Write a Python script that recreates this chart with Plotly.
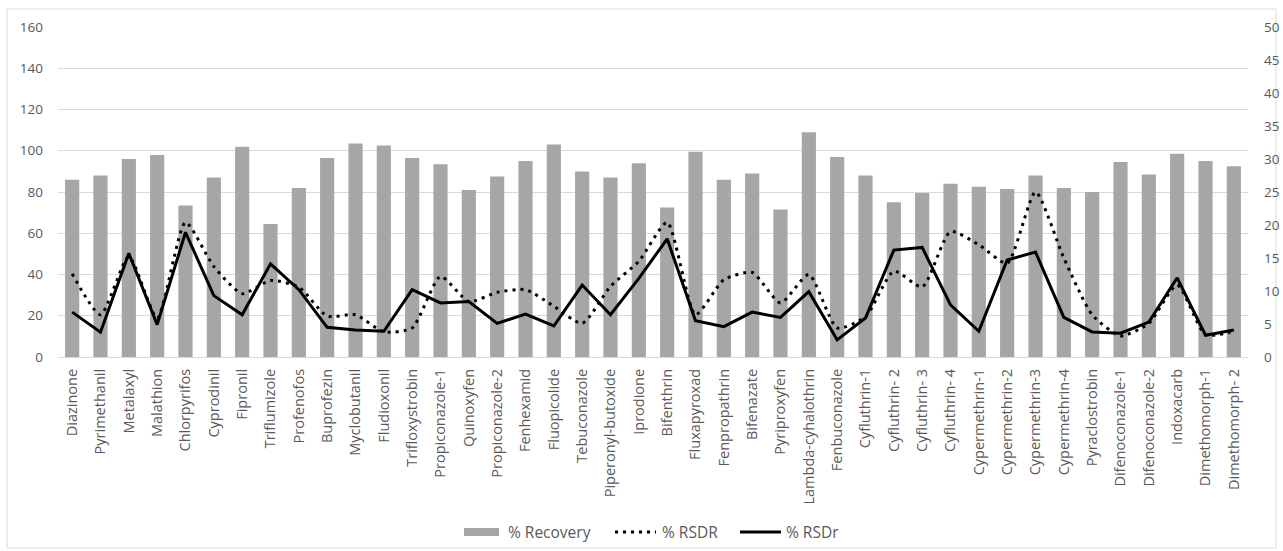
import plotly.graph_objects as go

compounds = ["Diazinone", "Pyrimethanil", "Metalaxyl", "Malathion", "Chlorpyrifos", "Cyprodinil",
             "Fipronil", "Triflumizole", "Profenofos", "Buprofezin", "Myclobutanil", "Fludioxonil",
             "Trifloxystrobin", "Propiconazole-1", "Quinoxyfen", "Propiconazole-2", "Fenhexamid",
             "Fluopicolide", "Tebuconazole", "Piperonyl-butoxide", "Iprodione", "Bifenthrin",
             "Fluxapyroxad", "Fenpropathrin", "Bifenazate", "Pyriproxyfen", "Lambda-cyhalothrin",
             "Fenbuconazole", "Cyfluthrin-1", "Cyfluthrin- 2", "Cyfluthrin- 3", "Cyfluthrin- 4",
             "Cypermethrin-1", "Cypermethrin-2", "Cypermethrin-3", "Cypermethrin-4", "Pyraclostrobin",
             "Difenoconazole-1", "Difenoconazole-2", "Indoxacarb", "Dimethomorph-1", "Dimethomorph- 2"]

recovery = [86, 88, 96, 98, 73.5, 87, 102, 64.5, 82, 96.5, 103.5, 102.5,
            96.5, 93.5, 81, 87.5, 95, 103, 90, 87, 94, 72.5,
            99.5, 86, 89, 71.5, 109, 97, 88, 75, 79.5, 84,
            82.5, 81.5, 88, 82, 80, 94.5, 88.5, 98.5, 95, 92.5]

rsd_R = [12.6, 6.4, 15.2, 5.9, 20.4, 13.7, 9.6, 11.6, 10.6, 6.2, 6.4, 3.8,
         4.4, 12.2, 8.4, 9.8, 10.2, 7.7, 5.1, 10.7, 14.5, 20.4,
         6.4, 11.7, 12.8, 8.2, 12.5, 4.4, 6.1, 13.0, 10.6, 19.0,
         17.0, 14.2, 25.0, 15.0, 6.4, 3.2, 5.1, 10.9, 3.4, 3.9]

rsd_r = [6.8, 3.75, 15.7, 4.9, 18.9, 9.3, 6.4, 14.1, 10.2, 4.5, 4.1, 3.9,
         10.2, 8.2, 8.4, 5.1, 6.5, 4.7, 10.9, 6.4, 11.9, 17.9,
         5.5, 4.6, 6.8, 6.0, 9.9, 2.6, 5.9, 16.2, 16.6, 7.9,
         3.9, 14.7, 15.9, 6.0, 3.8, 3.6, 5.3, 12.0, 3.3, 4.1]

left_ticks = list(range(0, 161, 20))
right_ticks = list(range(0, 51, 5))
legend_names = ["% Recovery", "% RSDR", "% RSDr"]

font_family = "Open Sans, Noto Sans, sans-serif"
txt = "#595959"
DOT = "3px,5px"

# plot-area geometry (pixels) used to place the custom legend / frame
PL, PR, PT, PB = 58, 1248, 27, 357
PW, PH = PR - PL, PB - PT


def px(x):
    return (x - PL) / PW


def py(y):
    return (PB - y) / PH


fig = go.Figure()
fig.add_trace(go.Bar(x=compounds, y=recovery, name=legend_names[0],
                     marker=dict(color="#A6A6A6", line=dict(width=0))))
fig.add_trace(go.Scatter(x=compounds, y=rsd_R, name=legend_names[1], yaxis="y2", mode="lines",
                         line=dict(color="black", width=3, dash=DOT, shape="spline", smoothing=0.6)))
fig.add_trace(go.Scatter(x=compounds, y=rsd_r, name=legend_names[2], yaxis="y2", mode="lines",
                         line=dict(color="black", width=3)))

ly = 532
shapes = [
    dict(type="rect", xref="paper", yref="paper",
         x0=px(7), x1=px(1276), y0=py(548), y1=py(9),
         line=dict(color="#D9D9D9", width=1), fillcolor="rgba(0,0,0,0)", layer="below"),
    dict(type="rect", xref="paper", yref="paper", x0=px(464), x1=px(499), y0=py(536), y1=py(528),
         fillcolor="#A6A6A6", line=dict(width=0)),
    dict(type="line", xref="paper", yref="paper", x0=px(615), x1=px(656), y0=py(ly), y1=py(ly),
         line=dict(color="black", width=3, dash=DOT)),
    dict(type="line", xref="paper", yref="paper", x0=px(740), x1=px(781), y0=py(ly), y1=py(ly),
         line=dict(color="black", width=3)),
]
annotations = [
    dict(xref="paper", yref="paper", x=px(x0), y=py(ly), text=t, showarrow=False,
         xanchor="left", yanchor="middle", font=dict(size=15.5, color=txt))
    for x0, t in zip([506, 660, 784], legend_names)
]

fig.update_layout(
    width=1283, height=551,
    margin=dict(l=PL, r=1283 - PR, t=PT, b=551 - PB, autoexpand=False),
    paper_bgcolor="white", plot_bgcolor="white",
    font=dict(family=font_family, size=13, color=txt),
    bargap=0.5,
    showlegend=False,
    xaxis=dict(tickangle=-90, showgrid=False, showline=False, ticks="", automargin=False,
               tickfont=dict(size=14.5, color=txt), ticklabelstandoff=8),
    yaxis=dict(range=[0, 160], tickvals=left_ticks, showgrid=True, gridcolor="#D9D9D9",
               gridwidth=1, zeroline=True, zerolinecolor="#D9D9D9", zerolinewidth=1,
               ticks="", tickfont=dict(size=13.5, color=txt), ticklabelstandoff=14, automargin=False),
    yaxis2=dict(range=[0, 50], tickvals=right_ticks, overlaying="y", side="right",
                showgrid=False, zeroline=False, ticks="", automargin=False,
                tickfont=dict(size=13.5, color=txt), ticklabelstandoff=15),
    shapes=shapes,
    annotations=annotations,
)

fig.write_html("out.html", post_script="document.body.style.margin='0';",
               config={"displayModeBar": False})
